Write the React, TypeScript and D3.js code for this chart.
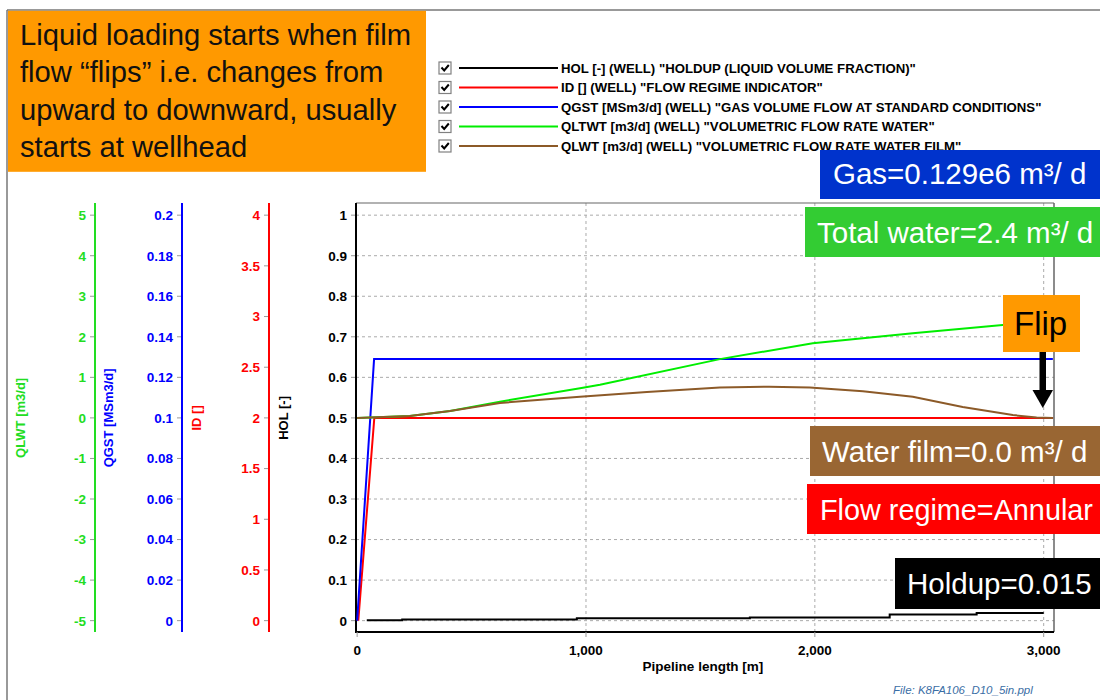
import React from "react";
import * as d3 from "d3";

// ---------- data ----------
const holX = [42, 197, 960, 1716, 2327, 2707, 3000];
const holY = [0.001, 0.003, 0.006, 0.008, 0.015, 0.019, 0.019];

const idX = [5, 75, 3040];
const idY = [0, 2, 2];

const qgstX = [0, 74, 3040];
const qgstY = [0, 0.129, 0.129];

const qltwtX = [0, 230, 406, 624, 974, 1061, 1585, 1991, 2428, 2821, 3040];
const qltwtY = [0, 0.05, 0.17, 0.4, 0.73, 0.82, 1.45, 1.84, 2.09, 2.29, 2.36];

const qlwtX = [0, 230, 406, 624, 974, 1266, 1585, 1800, 1978, 2210, 2428, 2646, 2865, 2969, 3040];
const qlwtY = [0, 0.05, 0.17, 0.37, 0.52, 0.64, 0.75, 0.77, 0.75, 0.66, 0.52, 0.27, 0.07, 0.01, 0];

const xTicks = [0, 1000, 2000, 3000];
const holTicks = [0, 0.1, 0.2, 0.3, 0.4, 0.5, 0.6, 0.7, 0.8, 0.9, 1];
const idTicks = [0, 0.5, 1, 1.5, 2, 2.5, 3, 3.5, 4];
const qgstTicks = [0, 0.02, 0.04, 0.06, 0.08, 0.1, 0.12, 0.14, 0.16, 0.18, 0.2];
const qlwtTicks = [-5, -4, -3, -2, -1, 0, 1, 2, 3, 4, 5];

const legendLabels = [
  'HOL [-] (WELL) "HOLDUP (LIQUID VOLUME FRACTION)"',
  'ID [] (WELL) "FLOW REGIME INDICATOR"',
  'QGST [MSm3/d] (WELL) "GAS VOLUME FLOW AT STANDARD CONDITIONS"',
  'QLTWT [m3/d] (WELL) "VOLUMETRIC FLOW RATE WATER"',
  'QLWT [m3/d] (WELL) "VOLUMETRIC FLOW RATE WATER FILM"',
];
const legendColors = ["#000000", "#ff0000", "#0000ff", "#00ee00", "#8c5a28"];

const noteLines = [
  "Liquid loading starts when film",
  "flow \u201cflips\u201d i.e. changes from",
  "upward to downward, usually",
  "starts at wellhead",
];

const FONT = "'Liberation Sans', Arial, Helvetica, sans-serif";

export default function App() {
  const left = 356, right = 1054, top = 203, bottom = 632;
  const x = d3.scaleLinear().domain([-5, 3045]).range([left, right]);
  const y = d3.scaleLinear().domain([-0.028, 1.03]).range([bottom, top]);
  const yR = d3.scaleLinear().domain([-0.112, 4.12]).range([bottom, top]);
  const yB = d3.scaleLinear().domain([-0.0056, 0.206]).range([bottom, top]);
  const yG = d3.scaleLinear().domain([-5.28, 5.3]).range([bottom, top]);

  const mk = (xs: number[], ys: number[], ys2: d3.ScaleLinear<number, number>, curve = d3.curveLinear) =>
    d3
      .line<number>()
      .x((_, i) => x(xs[i]))
      .y((v) => ys2(v))
      .curve(curve)(ys) as string;

  const axes = [
    { ax: 95, scale: yG, ticks: qlwtTicks, color: "#22dd22", fmt: (v: number) => String(v), title: "QLWT [m3/d]", tx: 20 },
    { ax: 182, scale: yB, ticks: qgstTicks, color: "#0000ff", fmt: (v: number) => String(+v.toFixed(2)), title: "QGST [MSm3/d]", tx: 108 },
    { ax: 269, scale: yR, ticks: idTicks, color: "#ff0000", fmt: (v: number) => String(v), title: "ID []", tx: 196 },
    { ax: 356, scale: y, ticks: holTicks, color: "#000000", fmt: (v: number) => String(+v.toFixed(1)), title: "HOL [-]", tx: 283 },
  ];

  const legendY0 = 68;
  const legendStep = 19.5;

  const boxes = [
    { x0: 820, y0: 150, x1: 1100, y1: 199, fill: "#0033cc", color: "#ffffff", text: "Gas=0.129e6 m\u00b3/ d", tx: 833, ty: 184, fs: 29.5 },
    { x0: 805, y0: 207, x1: 1100, y1: 257, fill: "#33cc33", color: "#ffffff", text: "Total water=2.4 m\u00b3/ d", tx: 817, ty: 243, fs: 29.5 },
    { x0: 810, y0: 426, x1: 1100, y1: 476, fill: "#996633", color: "#ffffff", text: "Water film=0.0 m\u00b3/ d", tx: 822, ty: 462, fs: 29.5 },
    { x0: 807, y0: 484, x1: 1100, y1: 534, fill: "#ff0000", color: "#ffffff", text: "Flow regime=Annular", tx: 820, ty: 520, fs: 28.8 },
    { x0: 895, y0: 558, x1: 1100, y1: 609, fill: "#000000", color: "#ffffff", text: "Holdup=0.015", tx: 907, ty: 594, fs: 29.5 },
  ];

  return (
    <svg
      width={1100}
      height={700}
      style={{ position: "absolute", left: 0, top: 0, background: "#fff" }}
      fontFamily={FONT}
    >
      <rect x={0} y={0} width={1100} height={700} fill="#fff" />
      {/* outer frame */}
      <line x1={7} y1={10} x2={7} y2={700} stroke="#777" strokeWidth={1.5} />
      <line x1={7} y1={10} x2={1100} y2={10} stroke="#777" strokeWidth={1.5} />

      {/* gridlines */}
      {holTicks.map((t) => (
        <line key={"gh" + t} x1={left} x2={right} y1={y(t)} y2={y(t)} stroke="#aaa" strokeDasharray="3,3" strokeWidth={1} />
      ))}
      {xTicks.filter((t) => t > 0).map((t) => (
        <line key={"gv" + t} x1={x(t)} x2={x(t)} y1={top} y2={bottom} stroke="#aaa" strokeDasharray="3,3" strokeWidth={1} />
      ))}

      {/* plot frame */}
      <line x1={left} x2={right} y1={top} y2={top} stroke="#666" strokeWidth={1.2} />
      <line x1={right} x2={right} y1={top} y2={bottom} stroke="#666" strokeWidth={1.5} />

      {/* y axes */}
      {axes.map((a) => (
        <g key={a.title}>
          {a.ticks.map((t) => (
            <g key={t}>
              <line x1={a.ax - 5} x2={a.ax} y1={a.scale(t)} y2={a.scale(t)} stroke="#999" strokeWidth={1} />
              <text
                x={a.ax - 9}
                y={a.scale(t)}
                dy="0.36em"
                textAnchor="end"
                fontSize={13.5}
                fontWeight="bold"
                fill={a.color}
              >
                {a.fmt(t)}
              </text>
            </g>
          ))}
          <line x1={a.ax} x2={a.ax} y1={top} y2={bottom} stroke={a.color} strokeWidth={2} />
          <text
            transform={`translate(${a.tx},${y(0.5)}) rotate(-90)`}
            textAnchor="middle"
            dy="0.36em"
            fontSize={13}
            fontWeight="bold"
            fill={a.color}
          >
            {a.title}
          </text>
        </g>
      ))}

      {/* x axis */}
      <line x1={left - 1} x2={right} y1={bottom} y2={bottom} stroke="#000" strokeWidth={2} />
      {xTicks.map((t) => (
        <g key={"xt" + t}>
          <line x1={x(t)} x2={x(t)} y1={bottom} y2={bottom + 5} stroke="#999" />
          <text x={x(t)} y={655} textAnchor="middle" fontSize={13.5} fontWeight="bold" fill="#000">
            {d3.format(",")(t)}
          </text>
        </g>
      ))}
      <text x={703} y={671} textAnchor="middle" fontSize={13.5} fontWeight="bold" fill="#000">
        Pipeline length [m]
      </text>

      {/* series */}
      <path d={mk(holX, holY, y, d3.curveStepAfter)} fill="none" stroke="#000" strokeWidth={2} />
      <path d={mk(idX, idY, yR)} fill="none" stroke="#ff0000" strokeWidth={2} />
      <path d={mk(qgstX, qgstY, yB)} fill="none" stroke="#0000ff" strokeWidth={2} />
      <path d={mk(qltwtX, qltwtY, yG)} fill="none" stroke="#00ee00" strokeWidth={2} />
      <path d={mk(qlwtX, qlwtY, yG)} fill="none" stroke="#8c5a28" strokeWidth={2} />

      {/* legend */}
      {legendLabels.map((lab, i) => {
        const cy = legendY0 + i * legendStep;
        return (
          <g key={lab}>
            <rect x={439} y={cy - 6} width={12} height={12} fill="#fff" stroke="#808080" strokeWidth={1.2} />
            <path
              d={`M${441.5},${cy - 0.5} L${444.2},${cy + 2.5} L${448.8},${cy - 3}`}
              fill="none"
              stroke="#000"
              strokeWidth={2}
            />
            <line x1={459} x2={558} y1={cy} y2={cy} stroke={legendColors[i]} strokeWidth={2} />
            <text x={561} y={cy + 4.6} fontSize={13.2} fontWeight="bold" fill="#000">
              {lab}
            </text>
          </g>
        );
      })}

      {/* note box */}
      <rect x={8} y={10.8} width={418} height={161} fill="#ff9900" />
      {noteLines.map((l, i) => (
        <text key={l} x={20} y={45 + i * 37.3} fontSize={29.2} fill="#111">
          {l}
        </text>
      ))}

      {/* annotation boxes */}
      {boxes.map((b) => (
        <g key={b.text}>
          <rect x={b.x0} y={b.y0} width={b.x1 - b.x0} height={b.y1 - b.y0} fill={b.fill} />
          <text x={b.tx} y={b.ty} fontSize={b.fs} fill={b.color}>
            {b.text}
          </text>
        </g>
      ))}

      {/* flip box & arrow */}
      <rect x={1003} y={295} width={77} height={57} fill="#ff9900" />
      <text x={1014} y={335} fontSize={33} fill="#000">
        Flip
      </text>
      <rect x={1039.5} y={352} width={6.5} height={40} fill="#000" />
      <path d="M1032.5,390 L1053,390 L1042.8,408 Z" fill="#000" />

      {/* file text */}
      <text x={893} y={694} fontSize={11.5} fontStyle="italic" fill="#3a6ea5">
        File: K8FA106_D10_5in.ppl
      </text>
    </svg>
  );
}
